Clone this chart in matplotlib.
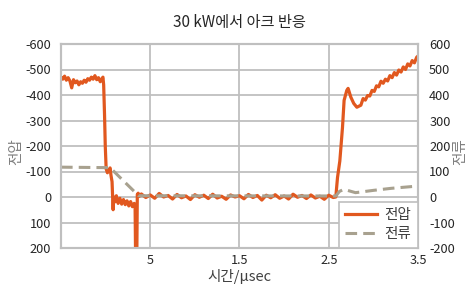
import numpy as np
import matplotlib
matplotlib.use("Agg")
import matplotlib.pyplot as plt

plt.rcParams['font.family'] = ['Noto Sans CJK KR', 'DejaVu Sans']
plt.rcParams['axes.unicode_minus'] = False

# voltage (left axis, V)
t_pre = np.linspace(-0.50, -0.04, 24)
v_pre = [-470, -462, -474, -458, -468, -455, -428, -460, -448, -455, -440, -452,
         -446, -458, -450, -464, -458, -470, -462, -476, -460, -468, -452, -465]

t_drop = [-0.03, -0.022, -0.012, -0.004, 0.006, 0.02, 0.035, 0.05, 0.06, 0.072,
          0.084, 0.09, 0.10, 0.12, 0.14, 0.16, 0.18, 0.20, 0.22, 0.24, 0.26,
          0.28, 0.30, 0.32, 0.33, 0.335, 0.35, 0.355, 0.365, 0.375]
v_drop = [-470, -440, -320, -200, -110, -95, -105, -114, -85, -60,
          50, 0, 20, -5, 25, 5, 28, 10, 30, 15, 35,
          18, 38, 25, 30, 210, 210, -10, -15, -2]

t_flat = np.linspace(0.40, 2.55, 44)
v_flat = [-12, 2, -8, 5, -14, 0, -6, 8, -10, 3, -4, 10, -9, 1, -7, 6, -11, 4,
          -3, 9, -8, 0, -5, 7, -10, 2, -6, 12, -7, 3, -9, 5, -4, 8, -11, 1,
          -6, 6, -8, 4, -3, 9, -7, 2]

t_rise = [2.579, 2.598, 2.624, 2.654, 2.672, 2.702, 2.717, 2.747, 2.78, 2.815]
v_rise = [0, -76, -141, -273, -379, -418, -426, -392, -367, -352]

t_late = np.linspace(2.86, 3.51, 27)
v_late = [-360, -386, -380, -398, -396, -418, -414, -436, -432, -454, -446,
          -462, -455, -476, -468, -488, -478, -498, -490, -510, -500, -522,
          -514, -535, -526, -548, -556]

# current (right axis, A)
t_cur = [-0.5, 0.05, 0.32, 0.37, 2.58, 2.62, 2.67, 2.80, 3.0, 3.2, 3.5]
i_cur = [117, 115, 22, 5, 4, 22, 30, 17, 26, 34, 43]

x_ticks = [0.5, 1.5, 2.5, 3.5]
x_labels = ['5', '1.5', '2.5', '3.5']

t_v = np.concatenate([t_pre, t_drop, t_flat, t_rise, t_late])
v_all = np.concatenate([v_pre, v_drop, v_flat, v_rise, v_late])

orange = '#e1581f'
grey = '#a8a18f'
grid_c = '#bfbfbf'
txt = '#262626'

fig = plt.figure(figsize=(4.68, 2.85), dpi=100)
ax = fig.add_axes([61 / 468, 1 - 248 / 285, 357 / 468, 204 / 285])
ax2 = ax.twinx()

l1, = ax.plot(t_v, v_all, color=orange, lw=2.3, label='전압')
l2, = ax2.plot(t_cur, i_cur, color=grey, lw=2.2, ls=(0, (3.8, 2.0)), label='전류')

ax.set_xlim(-0.5, 3.5)
ax.set_ylim(200, -600)
ax.set_yticks(np.arange(-600, 201, 100))
ax2.set_ylim(-200, 600)
ax2.set_yticks(np.arange(-200, 601, 100))
ax.set_xticks(x_ticks)
ax.set_xticklabels(x_labels)

ax.grid(True, color=grid_c, lw=1.3)
ax.set_axisbelow(True)
for a in (ax, ax2):
    for s in a.spines.values():
        s.set_color(grid_c)
        s.set_linewidth(1.5)
    a.tick_params(length=0, labelsize=9.2, colors=txt)
ax.tick_params(axis='y', pad=7)
ax2.tick_params(axis='y', pad=8)
ax.tick_params(axis='x', pad=4)

ax.set_title('30 kW에서 아크 반응', fontsize=11, color=txt, pad=12)
ax.set_ylabel('전압', fontsize=10.5, color='#808080', va='center')
ax.yaxis.set_label_coords(-0.125, 0.47)
ax2.set_ylabel('전류', fontsize=10.5, color='#808080', rotation=90, va='center')
ax2.yaxis.set_label_coords(1.118, 0.47)
ax.set_xlabel('시간/μsec', fontsize=10.5, color='#404040', va='center')
ax.xaxis.set_label_coords(0.5, -0.142)

leg = ax2.legend([l1, l2], ['전압', '전류'], loc='lower right', borderaxespad=0,
                 fontsize=10.5, frameon=True, fancybox=False, edgecolor=grid_c,
                 framealpha=1, handlelength=2.2, handletextpad=0.5,
                 borderpad=0.45, labelspacing=0.35)
leg.get_frame().set_linewidth(1.2)
for t in leg.get_texts():
    t.set_color('#404040')

fig.savefig('out.png', dpi=100)
